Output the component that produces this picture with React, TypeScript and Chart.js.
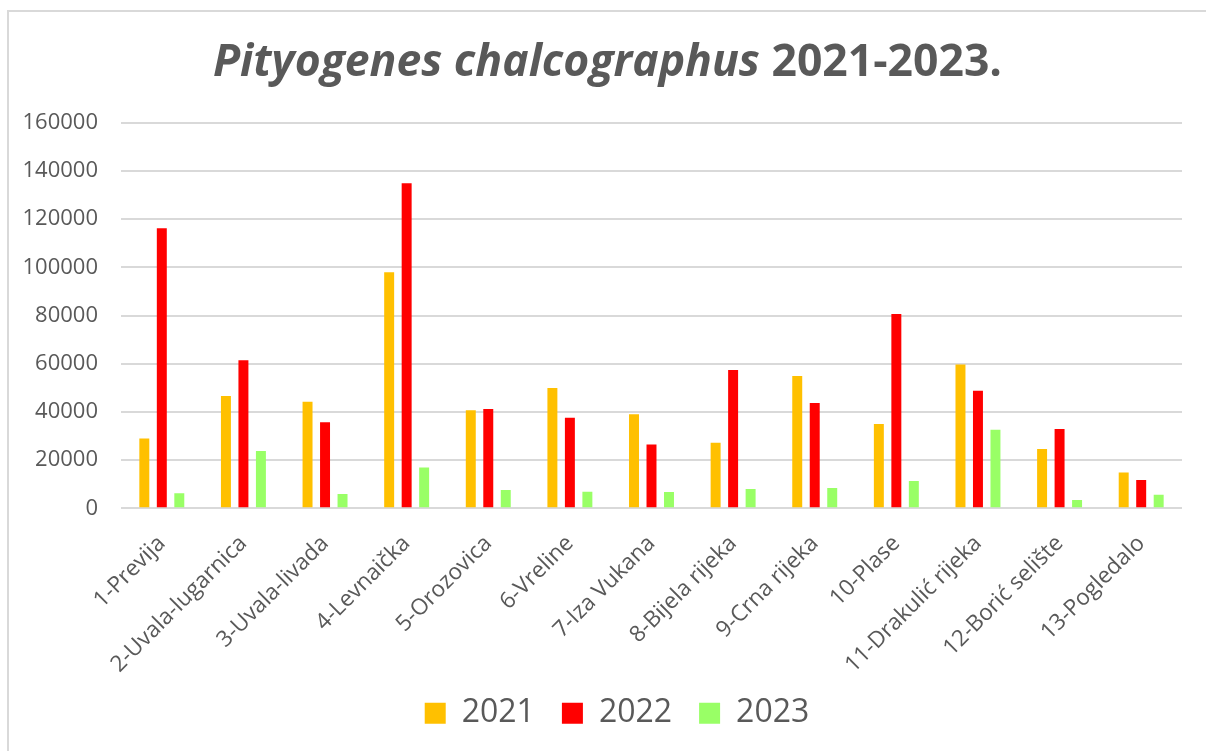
import React, { useEffect, useRef } from "react";
import { Chart, registerables } from "chart.js";

Chart.register(...registerables);

const categories = [
  "1-Previja",
  "2-Uvala-lugarnica",
  "3-Uvala-livada",
  "4-Levnaička",
  "5-Orozovica",
  "6-Vreline",
  "7-Iza Vukana",
  "8-Bijela rijeka",
  "9-Crna rijeka",
  "10-Plase",
  "11-Drakulić rijeka",
  "12-Borić selište",
  "13-Pogledalo",
];

const values2021 = [29000, 46600, 44200, 97900, 40700, 49900, 39000, 27200, 54900, 35000, 59700, 24600, 14900];
const values2022 = [116200, 61400, 35700, 134900, 41200, 37600, 26500, 57400, 43700, 80600, 48800, 32900, 11700];
const values2023 = [6200, 23800, 5900, 16900, 7600, 6900, 6800, 8000, 8400, 11300, 32600, 3400, 5600];

const seriesLabels = ["2021", "2022", "2023"];
const titleItalic = "Pityogenes chalcographus";
const titlePlain = " 2021-2023.";

const FONT = "'Open Sans', sans-serif";
const TEXT = "#595959";

const titlePlugin = {
  id: "mixedTitle",
  afterLayout(chart: any) {
    const lg = chart.legend;
    if (lg) {
      lg.left += 21.5;
      lg.right += 21.5;
      lg.top -= 8;
      lg.bottom -= 8;
    }
  },
  afterDraw(chart: any) {
    const ctx = chart.ctx;
    ctx.save();
    const size = 44.5;
    const fItalic = `italic bold ${size}px ${FONT}`;
    const fPlain = `bold ${size}px ${FONT}`;
    ctx.font = fItalic;
    const w1 = ctx.measureText(titleItalic).width;
    ctx.font = fPlain;
    const w2 = ctx.measureText(titlePlain).width;
    const total = w1 + w2;
    const x0 = chart.width / 2 - total / 2;
    const y = 64;
    ctx.fillStyle = TEXT;
    ctx.textBaseline = "alphabetic";
    ctx.textAlign = "left";
    ctx.font = fItalic;
    ctx.fillText(titleItalic, x0, y);
    ctx.font = fPlain;
    ctx.fillText(titlePlain, x0 + w1, y);
    ctx.restore();
  },
};

export default function App() {
  const ref = useRef<HTMLCanvasElement | null>(null);

  useEffect(() => {
    if (!ref.current) return;
    const chart = new Chart(ref.current, {
      type: "bar",
      data: {
        labels: categories,
        datasets: [
          { label: seriesLabels[0], data: values2021, backgroundColor: "#FFC000" },
          { label: seriesLabels[1], data: values2022, backgroundColor: "#FF0000" },
          { label: seriesLabels[2], data: values2023, backgroundColor: "#99FF66" },
        ],
      },
      options: {
        animation: false,
        responsive: false,
        maintainAspectRatio: false,
        datasets: {
          bar: { categoryPercentage: 0.643, barPercentage: 0.57 },
        } as any,
        layout: { padding: { left: 0, right: 24, top: 110.7, bottom: 3.7 } },
        plugins: {
          title: { display: false },
          tooltip: { enabled: false },
          legend: {
            display: true,
            position: "bottom",
            labels: {
              boxWidth: 21,
              boxHeight: 21,
              padding: 27,
              color: TEXT,
              font: { family: FONT, size: 32 },
            },
          },
        },
        scales: {
          x: {
            grid: { display: false },
            border: { display: false },
            ticks: {
              color: TEXT,
              font: { family: FONT, size: 22.5 },
              minRotation: 45,
              maxRotation: 45,
              autoSkip: false,
              padding: 14,
            },
            afterFit(scale: any) {
              scale.height = 170;
            },
          },
          y: {
            min: 0,
            max: 160000,
            border: { display: false },
            grid: { color: "#d9d9d9", lineWidth: 2, drawTicks: false },
            ticks: {
              stepSize: 20000,
              color: TEXT,
              font: { family: FONT, size: 22 },
              padding: 23,
              callback: (v: any) => String(v),
            },
            afterFit(scale: any) {
              scale.width = 112;
            },
          },
        },
      },
      plugins: [titlePlugin],
    });
    return () => chart.destroy();
  }, []);

  return (
    <div
      style={{
        position: "fixed",
        left: 7,
        top: 10,
        width: 1199,
        height: 741,
        borderLeft: "2px solid #d9d9d9",
        borderTop: "2px solid #d9d9d9",
        boxSizing: "border-box",
        background: "#fff",
      }}
    >
      <canvas ref={ref} width={1197} height={739} style={{ display: "block" }} />
    </div>
  );
}
